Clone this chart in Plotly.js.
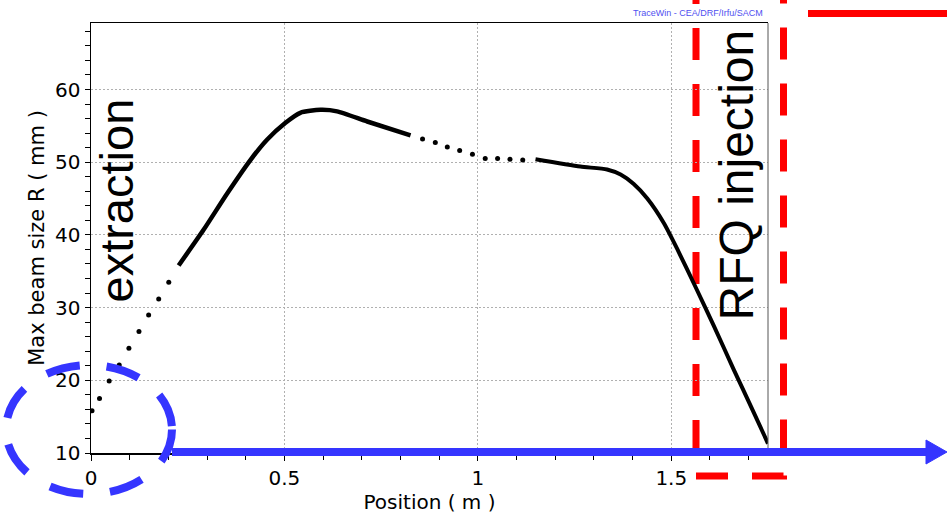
<!DOCTYPE html>
<html>
<head>
<meta charset="utf-8">
<script src="https://cdn.plot.ly/plotly-3.0.1.min.js"></script>
<style>html,body{margin:0;padding:0;background:#fff;}#chart{width:947px;height:521px;}</style>
</head>
<body>
<div id="chart"></div>
<script>
// Extraction region (dotted)
const xExtractDots = [0.0026, 0.022, 0.047, 0.073, 0.098, 0.124, 0.149, 0.175, 0.201];
const yExtractDots = [15.8, 17.5, 19.9, 22.1, 24.4, 26.7, 29.0, 31.2, 33.5];
// First solid section
const xSolidA = [0.2266, 0.291, 0.352, 0.412, 0.455, 0.502, 0.541, 0.593, 0.636, 0.714, 0.826];
const ySolidA = [35.8, 40.7, 45.7, 50.3, 53.1, 55.4, 56.8, 57.2, 57.0, 55.6, 53.7];
// Middle dotted section
const xMidDots = [0.857, 0.890, 0.921, 0.953, 0.986, 1.019, 1.051, 1.083, 1.116];
const yMidDots = [53.2, 52.7, 52.1, 51.6, 51.1, 50.5, 50.5, 50.4, 50.3];
// Second solid section
const xSolidB = [1.149, 1.265, 1.334, 1.369, 1.403, 1.438, 1.481, 1.515, 1.563, 1.610, 1.662, 1.713, 1.750];
const ySolidB = [50.4, 49.4, 49.0, 48.3, 47.0, 45.0, 41.6, 38.1, 32.8, 27.5, 21.4, 15.6, 11.3];

const xTickVals = [0, 0.5, 1, 1.5];
const xTickText = ['0', '0.5', '1', '1.5'];
const yTickVals = [10, 20, 30, 40, 50, 60];

// pixel -> paper helpers for the overlay drawings
const L = 91, T = 23, W = 677, H = 430;
const px = v => (v - L) / W;
const py = v => (T + H - v) / H;

const traces = [
  {x: xExtractDots, y: yExtractDots, mode: 'markers', marker: {color: '#000', size: 5}, showlegend: false},
  {x: xSolidA, y: ySolidA, mode: 'lines', line: {color: '#000', width: 4.5, shape: 'spline', smoothing: 0.6}, showlegend: false},
  {x: xMidDots, y: yMidDots, mode: 'markers', marker: {color: '#000', size: 5}, showlegend: false},
  {x: xSolidB, y: ySolidB, mode: 'lines', line: {color: '#000', width: 4, shape: 'spline', smoothing: 0.6}, showlegend: false}
];

const blue = '#3535ff';
const red = '#ff0000';

const shapes = [
  // right border of plot
  {type: 'line', xref: 'paper', yref: 'paper', x0: 1, x1: 1, y0: 0, y1: 1, line: {color: '#555', width: 1}},
  // red dashed box
  {type: 'path', xref: 'paper', yref: 'paper', layer: 'below',
   path: `M ${px(696)},${py(-28)} L ${px(696)},${py(476)} L ${px(783.5)},${py(476)} L ${px(783.5)},${py(-40)}`,
   line: {color: red, width: 7, dash: '32px,24px'}},
  // red top line
  {type: 'line', xref: 'paper', yref: 'paper', x0: px(808), x1: px(950), y0: py(13.5), y1: py(13.5),
   line: {color: red, width: 7}},
  // blue arrow shaft
  {type: 'line', xref: 'paper', yref: 'paper', x0: px(172), x1: px(930), y0: py(452), y1: py(452),
   line: {color: blue, width: 8}},
  // blue arrow head
  {type: 'path', xref: 'paper', yref: 'paper',
   path: `M ${px(926)},${py(440)} L ${px(947)},${py(452)} L ${px(926)},${py(464)} Z`,
   fillcolor: blue, line: {color: blue, width: 1}},
  // blue dashed ellipse
  {type: 'circle', xref: 'paper', yref: 'paper',
   x0: px(89 - 83), x1: px(89 + 83), y0: py(429.5 + 64.5), y1: py(429.5 - 64.5),
   line: {color: blue, width: 8, dash: '34px,27px'}}
];

const annotations = [
  {text: 'extraction', xref: 'paper', yref: 'paper', x: px(115.5), y: py(201), textangle: -90,
   showarrow: false, xanchor: 'center', yanchor: 'middle',
   font: {family: 'Liberation Sans, Arial, sans-serif', size: 47, color: '#000'}},
  {text: 'RFQ injection', xref: 'paper', yref: 'paper', x: px(735.5), y: py(175), textangle: -90,
   showarrow: false, xanchor: 'center', yanchor: 'middle',
   font: {family: 'Liberation Sans, Arial, sans-serif', size: 48, color: '#000'}},
  {text: 'TraceWin - CEA/DRF/Irfu/SACM', xref: 'paper', yref: 'paper', x: px(765), y: py(13),
   showarrow: false, xanchor: 'right', yanchor: 'middle',
   font: {family: 'Liberation Sans, Arial, sans-serif', size: 9, color: '#5050f0'}}
];

const layout = {
  width: 947, height: 521,
  margin: {l: L, r: 947 - L - W, t: T, b: 521 - T - H},
  paper_bgcolor: '#fff', plot_bgcolor: 'rgba(0,0,0,0)',
  showlegend: false,
  font: {family: 'DejaVu Sans, Verdana, sans-serif', color: '#000'},
  xaxis: {
    range: [0, 1.75], tickvals: xTickVals, ticktext: xTickText,
    ticks: 'outside', ticklen: 6, tickwidth: 1, tickcolor: '#000',
    minor: {dtick: 0.1, ticks: 'outside', ticklen: 5, tickcolor: '#000', showgrid: false},
    showline: true, linecolor: '#000', linewidth: 1.5, mirror: true,
    showgrid: true, gridcolor: '#b0b0b0', griddash: '2px,2px', gridwidth: 1,
    zeroline: false, tickfont: {size: 20, color: '#000'},
    title: {text: 'Position ( m )', font: {size: 20, color: '#000'}, standoff: 5},
    automargin: false
  },
  yaxis: {
    range: [10, 69.15], tickvals: yTickVals,
    ticks: 'outside', ticklen: 5, tickwidth: 1, tickcolor: '#000',
    minor: {dtick: 2, ticks: 'outside', ticklen: 5, tickcolor: '#000', showgrid: false},
    showline: true, linecolor: '#000', linewidth: 1.5,
    showgrid: true, gridcolor: '#b0b0b0', griddash: '2px,2px', gridwidth: 1,
    zeroline: false, tickfont: {size: 20, color: '#000'},
    title: {text: 'Max beam size R ( mm )', font: {size: 21, color: '#000'}, standoff: 4},
    automargin: false
  },
  shapes: shapes,
  annotations: annotations
};

Plotly.newPlot('chart', traces, layout, {displayModeBar: false, staticPlot: true});
</script>
</body>
</html>
